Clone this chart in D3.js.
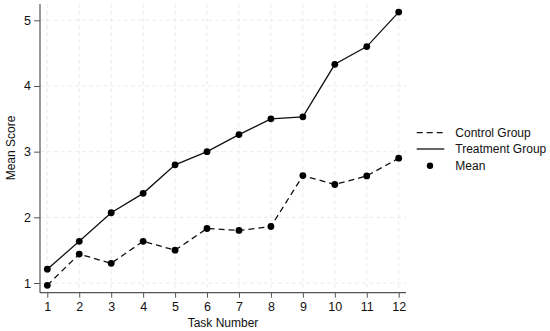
<!DOCTYPE html>
<html><head><meta charset="utf-8">
<script src="https://cdn.jsdelivr.net/npm/d3@7"></script>
<style>body{margin:0;background:#fff}svg{display:block;font-family:"Liberation Sans",Arial,sans-serif}</style>
</head><body><svg id="c" width="550" height="331"></svg>
<script>
const tasks = [1,2,3,4,5,6,7,8,9,10,11,12];
const controlValues = [0.965,1.44,1.30,1.635,1.50,1.83,1.80,1.86,2.635,2.50,2.63,2.90];
const treatmentValues = [1.21,1.635,2.07,2.365,2.80,3.00,3.26,3.50,3.53,4.33,4.60,5.125];
const yTicks = [1,2,3,4,5];
const legendLabels = ["Control Group","Treatment Group","Mean"];

(function(){
const svg = d3.select("#c");
const x = d3.scaleLinear().domain([1,12]).range([47.3,398.7]);
const y = d3.scaleLinear().domain([1,5]).range([283,20.3]);
const pLeft = 40, pRight = 406, pTop = 4, pBottom = 292.7;

// grid
const g = svg.append("g");
g.selectAll(".gx").data(tasks).enter().append("line")
  .attr("x1",d=>x(d)).attr("x2",d=>x(d)).attr("y1",pTop).attr("y2",pBottom)
  .attr("stroke","#e6e6e6").attr("stroke-width",0.8).attr("stroke-dasharray","4,3");
g.selectAll(".gy").data(yTicks).enter().append("line")
  .attr("y1",d=>y(d)).attr("y2",d=>y(d)).attr("x1",pLeft).attr("x2",pRight)
  .attr("stroke","#e6e6e6").attr("stroke-width",0.8).attr("stroke-dasharray","4,3");

// axes
const xAxis = d3.axisBottom(x).tickValues(tasks).tickFormat(d3.format("d")).tickSize(5).tickPadding(4).tickSizeOuter(0);
const yAxis = d3.axisLeft(y).tickValues(yTicks).tickFormat(d3.format("d")).tickSize(6).tickPadding(3).tickSizeOuter(0);
const xa = svg.append("g").attr("transform",`translate(0,${pBottom})`).call(xAxis);
const ya = svg.append("g").attr("transform",`translate(${pLeft},0)`).call(yAxis);
[xa,ya].forEach(a=>{
  a.select(".domain").remove();
  a.selectAll("text").attr("font-size",12.5).attr("fill","#111").attr("font-family","Liberation Sans, Arial, sans-serif");
  a.selectAll("line").attr("stroke","#555");
});
svg.append("line").attr("x1",pLeft).attr("x2",pRight).attr("y1",pBottom).attr("y2",pBottom).attr("stroke","#555").attr("stroke-width",1.2);
svg.append("line").attr("x1",pLeft).attr("x2",pLeft).attr("y1",pTop).attr("y2",pBottom).attr("stroke","#555").attr("stroke-width",1.2);

// labels
svg.append("text").attr("x",(pLeft+pRight)/2).attr("y",327).attr("text-anchor","middle")
  .attr("font-size",12).attr("fill","#111").text("Task Number");
svg.append("text").attr("transform","translate(15,148) rotate(-90)").attr("text-anchor","middle")
  .attr("font-size",12).attr("fill","#111").text("Mean Score");

// lines
const line = d3.line().x((d,i)=>x(tasks[i])).y(d=>y(d));
svg.append("path").datum(controlValues).attr("d",line).attr("fill","none")
  .attr("stroke","#111").attr("stroke-width",1.3).attr("stroke-dasharray","6,4");
svg.append("path").datum(treatmentValues).attr("d",line).attr("fill","none")
  .attr("stroke","#111").attr("stroke-width",1.3);
[controlValues,treatmentValues].forEach(vals=>{
  svg.append("g").selectAll("circle").data(vals).enter().append("circle")
    .attr("cx",(d,i)=>x(tasks[i])).attr("cy",d=>y(d)).attr("r",3.4).attr("fill","#000");
});

// legend
const lg = svg.append("g");
const ly = [132.7,149,165.7];
lg.append("line").attr("x1",416.7).attr("x2",444.3).attr("y1",ly[0]).attr("y2",ly[0])
  .attr("stroke","#111").attr("stroke-width",1.3).attr("stroke-dasharray","6,4");
lg.append("line").attr("x1",416.7).attr("x2",444.3).attr("y1",ly[1]).attr("y2",ly[1])
  .attr("stroke","#111").attr("stroke-width",1.3);
lg.append("circle").attr("cx",430).attr("cy",ly[2]).attr("r",3.2).attr("fill","#000");
lg.selectAll("text").data(legendLabels).enter().append("text")
  .attr("x",455.3).attr("y",(d,i)=>ly[i]+4.3).attr("font-size",12).attr("fill","#111").text(d=>d);
})();
</script></body></html>
